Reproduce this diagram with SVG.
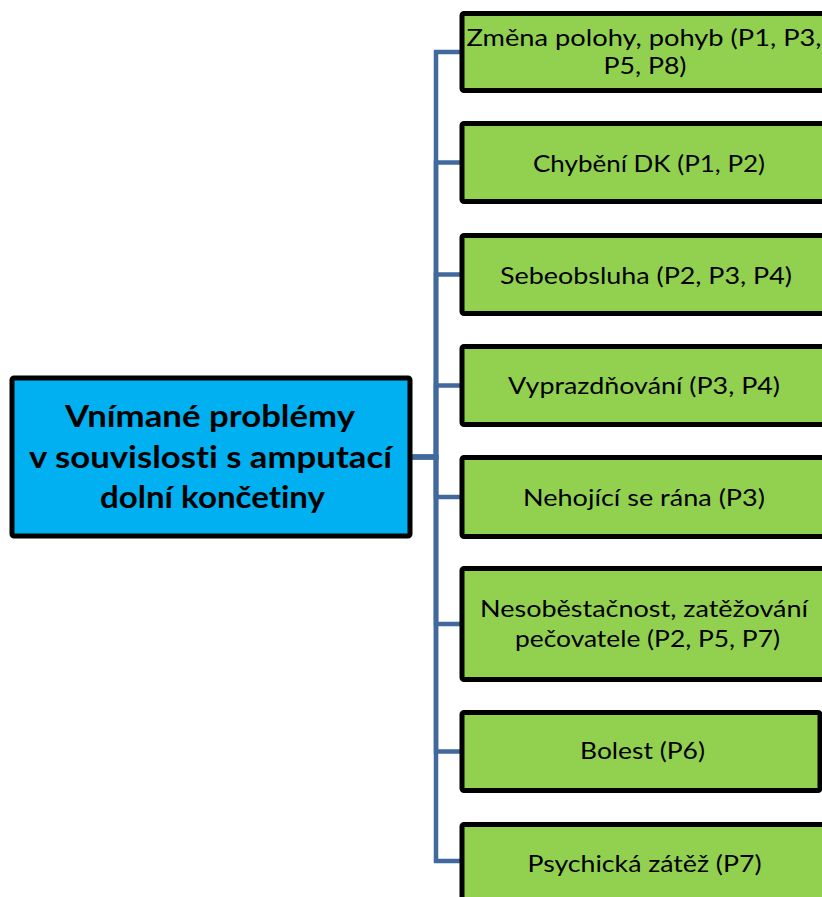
<svg xmlns="http://www.w3.org/2000/svg" width="822" height="897" viewBox="0 0 822 897">
  <style>
    .bg { fill: #ffffff; }
    .conn { fill: none; stroke: #41699D; stroke-width: 4.5; stroke-linejoin: miter; }
    .root rect { fill: #00B0F0; stroke: #000000; stroke-width: 5; }
    .leaf rect { fill: #92D050; stroke: #000000; stroke-width: 5; }
    text { font-variant-ligatures: none; fill: #000000; text-anchor: middle; }
    .root text { font-family: Lato, "Noto Sans", sans-serif; font-weight: bold; font-size: 31px; }
    .leaf text { font-family: Lato, "Noto Sans", sans-serif; font-size: 23.3px; }
  </style>
  <rect class="bg" x="0" y="0" width="822" height="897"/>

  <!-- elbow connectors from the root to each item -->
  <g id="connectors">
    <path class="conn" d="M412 457 H436 V52 H461"/>
    <path class="conn" d="M412 457 H436 V162.5 H461"/>
    <path class="conn" d="M412 457 H436 V274.5 H461"/>
    <path class="conn" d="M412 457 H436 V385.5 H461"/>
    <path class="conn" d="M412 457 H436 V497 H461"/>
    <path class="conn" d="M412 457 H436 V624 H461"/>
    <path class="conn" d="M412 457 H436 V751.5 H461"/>
    <path class="conn" d="M412 457 H436 V861 H461"/>
  </g>

  <g id="root" class="root">
    <rect x="12" y="378" width="398" height="158" rx="2"/>
    <text x="210" y="427" textLength="290" lengthAdjust="spacingAndGlyphs">Vnímané problémy</text>
    <text x="210.5" y="468" textLength="363" lengthAdjust="spacingAndGlyphs">v souvislosti s amputací</text>
    <text x="212.5" y="508" textLength="225" lengthAdjust="spacingAndGlyphs">dolní končetiny</text>
  </g>

  <g id="item1" class="leaf">
    <rect x="462" y="13.5" width="372" height="77" rx="2"/>
    <text x="644" y="46" textLength="355" lengthAdjust="spacingAndGlyphs">Změna polohy, pohyb (P1, P3,</text>
    <text x="645" y="74" textLength="83" lengthAdjust="spacingAndGlyphs">P5, P8)</text>
  </g>

  <g id="item2" class="leaf">
    <rect x="462" y="123.5" width="372" height="78" rx="2"/>
    <text x="649" y="171.5" textLength="232" lengthAdjust="spacingAndGlyphs">Chybění DK (P1, P2)</text>
  </g>

  <g id="item3" class="leaf">
    <rect x="462" y="235.5" width="372" height="78" rx="2"/>
    <text x="646" y="283.5" textLength="292" lengthAdjust="spacingAndGlyphs">Sebeobsluha (P2, P3, P4)</text>
  </g>

  <g id="item4" class="leaf">
    <rect x="462" y="346.5" width="372" height="78" rx="2"/>
    <text x="644" y="393.5" textLength="272" lengthAdjust="spacingAndGlyphs">Vyprazdňování (P3, P4)</text>
  </g>

  <g id="item5" class="leaf">
    <rect x="462" y="457.5" width="372" height="79" rx="2"/>
    <text x="644" y="505.5" textLength="242" lengthAdjust="spacingAndGlyphs">Nehojící se rána (P3)</text>
  </g>

  <g id="item6" class="leaf">
    <rect x="462" y="568.5" width="372" height="111" rx="2"/>
    <text x="644" y="617" textLength="328" lengthAdjust="spacingAndGlyphs">Nesoběstačnost, zatěžování</text>
    <text x="647.5" y="646.5" textLength="265" lengthAdjust="spacingAndGlyphs">pečovatele (P2, P5, P7)</text>
  </g>

  <g id="item7" class="leaf">
    <rect x="462" y="712.5" width="358" height="78" rx="2"/>
    <text x="642.5" y="759" textLength="125" lengthAdjust="spacingAndGlyphs">Bolest (P6)</text>
  </g>

  <g id="item8" class="leaf">
    <rect x="462" y="824.5" width="372" height="78" rx="2"/>
    <text x="644.5" y="871.5" textLength="234" lengthAdjust="spacingAndGlyphs">Psychická zátěž (P7)</text>
  </g>
</svg>
